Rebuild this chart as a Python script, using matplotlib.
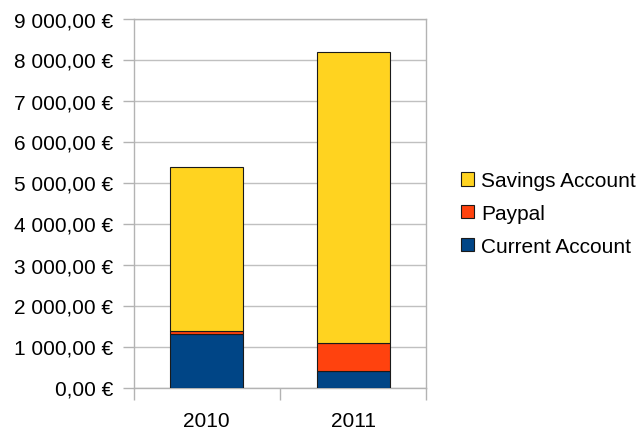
import numpy as np
import matplotlib.pyplot as plt
from matplotlib.ticker import FuncFormatter, FixedLocator
from matplotlib.patches import Patch

plt.rcParams['font.family'] = ['Liberation Sans', 'DejaVu Sans']

years = ["2010", "2011"]
current_account = [1305, 410]
paypal = [80, 668]
savings_account = [4000, 7100]

colors = {
    "Current Account": "#004586",
    "Paypal": "#ff420e",
    "Savings Account": "#ffd320",
}


def euro(v, pos):
    s = f"{v:,.2f}".replace(",", " ").replace(".", ",")
    return s + " €"


fig = plt.figure(figsize=(6.42, 4.31), dpi=100)
ax = fig.add_axes([133.5 / 642, 1 - 388.5 / 431, 293 / 642, 369 / 431])

x = np.arange(len(years))
w = 0.5
bottom = np.zeros(len(years))
for name, vals in [("Current Account", current_account),
                   ("Paypal", paypal),
                   ("Savings Account", savings_account)]:
    ax.bar(x, vals, w, bottom=bottom, color=colors[name],
           edgecolor="#1a1a1a", linewidth=0.8, zorder=3)
    bottom += np.array(vals)

ax.set_xlim(-0.5, 1.5)
ax.set_ylim(0, 9000)
ax.set_yticks(np.arange(0, 9001, 1000))
ax.yaxis.set_major_formatter(FuncFormatter(euro))
ax.grid(axis="y", color="#c0c0c0", linewidth=1, zorder=0)

ax.set_xticks(x)
ax.set_xticklabels(years)
ax.xaxis.set_minor_locator(FixedLocator([-0.5, 0.5, 1.5]))
ax.tick_params(axis="x", which="major", length=0, pad=17)
ax.tick_params(axis="x", which="minor", length=8.3, color="#b3b3b3", width=1)
ax.tick_params(axis="y", length=8, color="#b3b3b3", width=1, pad=6.5)
ax.tick_params(labelsize=15, labelcolor="black")

for s in ["top", "right", "left", "bottom"]:
    ax.spines[s].set_color("#b3b3b3")
    ax.spines[s].set_linewidth(1)

handles = [Patch(facecolor=colors[n], edgecolor="#1a1a1a", linewidth=0.8, label=n)
           for n in ["Savings Account", "Paypal", "Current Account"]]
fig.legend(handles=handles, loc="center left", bbox_to_anchor=(461 / 642, 1 - 214.5 / 431),
           frameon=False, fontsize=15, handlelength=0.62, handleheight=0.62,
           handletextpad=0.35, labelspacing=0.66, borderpad=0, borderaxespad=0)

fig.savefig("out.png", dpi=100)
